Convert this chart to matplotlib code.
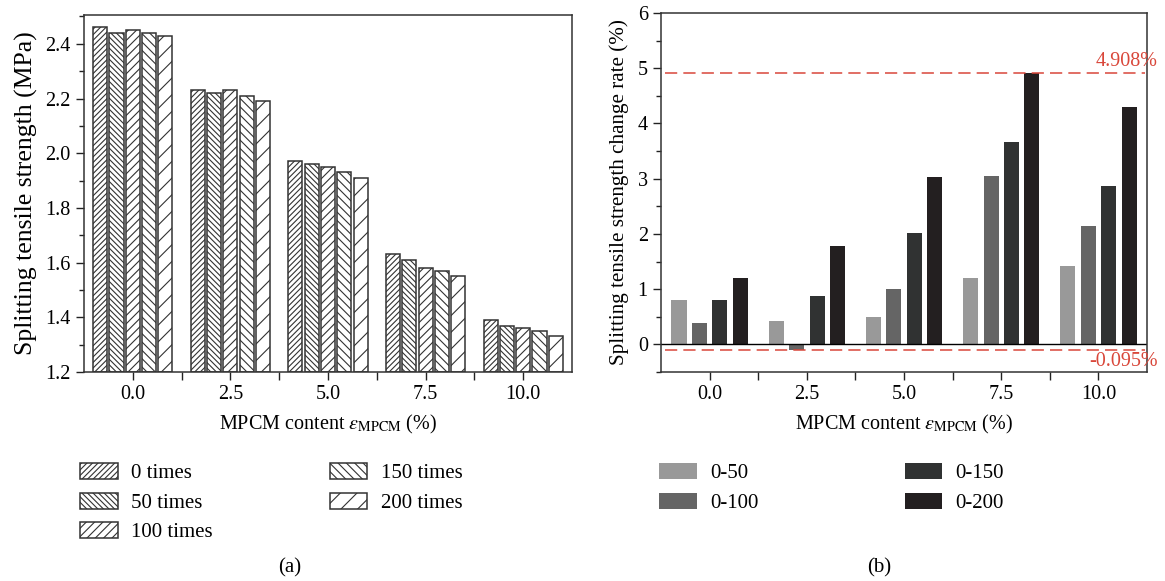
import numpy as np
import matplotlib
matplotlib.use("Agg")
import matplotlib.pyplot as plt
from matplotlib.ticker import MultipleLocator, FormatStrFormatter

plt.rcParams['font.family'] = ['Liberation Serif', 'DejaVu Serif']
plt.rcParams['mathtext.fontset'] = 'stix'
plt.rcParams['hatch.linewidth'] = 0.8
plt.rcParams['hatch.color'] = '#333333'

# --- data ---
contents = ["0.0", "2.5", "5.0", "7.5", "10.0"]

# (a) splitting tensile strength, MPa
cycles = ["0 times", "50 times", "100 times", "150 times", "200 times"]
strength = [
    [2.46, 2.23, 1.97, 1.63, 1.39],   # 0 times
    [2.44, 2.22, 1.96, 1.61, 1.37],   # 50 times
    [2.45, 2.23, 1.95, 1.58, 1.36],   # 100 times
    [2.44, 2.21, 1.93, 1.57, 1.35],   # 150 times
    [2.43, 2.19, 1.91, 1.55, 1.33],   # 200 times
]
hatches = ["//////", "\\\\\\\\\\\\", "////", "\\\\\\\\", "//"]

# (b) change rate, %
ranges = ["0-50", "0-100", "0-150", "0-200"]
rate = [
    [0.80, 0.43, 0.49, 1.21, 1.42],    # 0-50
    [0.38, -0.095, 1.00, 3.05, 2.14],  # 0-100
    [0.80, 0.88, 2.01, 3.66, 2.86],    # 0-150
    [1.20, 1.78, 3.03, 4.908, 4.30],   # 0-200
]
gray = ["#999999", "#656565", "#303232", "#231f20"]
rate_max = 4.908
rate_min = -0.095

fs = 14.5
red = "#d9473a"
xlab = r"MPCM content $\varepsilon_{\mathrm{MPCM}}$ (%)"

fig = plt.figure(figsize=(11.65, 5.81), dpi=100)

# =========================
# (a)
# =========================
ax1 = fig.add_axes([0.0721, 0.3597, 0.4189, 0.6143])
x = np.arange(len(contents))
step = 0.167
for i, vals in enumerate(strength):
    ax1.bar(x + (i - 2) * step, np.array(vals) - 1.2, bottom=1.2, width=0.145,
            color="white", edgecolor="#333333", linewidth=1.1,
            hatch=hatches[i], label=cycles[i])
ax1.set_xlim(-0.5, 4.5)
ax1.set_ylim(1.2, 2.505)
ax1.set_xticks(x)
ax1.set_xticklabels(contents)
ax1.set_xticks(x[:-1] + 0.5, minor=True)
ax1.yaxis.set_major_locator(MultipleLocator(0.2))
ax1.yaxis.set_minor_locator(MultipleLocator(0.1))
ax1.yaxis.set_major_formatter(FormatStrFormatter("%.1f"))
ax1.set_ylabel("Splitting tensile strength (MPa)", fontsize=18.5, labelpad=5)
ax1.set_xlabel(xlab, fontsize=fs, labelpad=6)

# =========================
# (b)
# =========================
ax2 = fig.add_axes([0.5674, 0.3597, 0.4172, 0.6179])
step2 = 0.21
for i, vals in enumerate(rate):
    ax2.bar(x + (i - 1.5) * step2, vals, width=0.155, color=gray[i],
            edgecolor="none", label=ranges[i])
ax2.axhline(0, color="black", linewidth=1.0)
ax2.axhline(rate_max, color=red, linewidth=1.1, dashes=(8, 4), xmin=0.008, xmax=0.995)
ax2.axhline(rate_min, color=red, linewidth=1.1, dashes=(8, 4), xmin=0.008, xmax=0.995)
ax2.text(1.022, rate_max + 0.04, "4.908%", transform=ax2.get_yaxis_transform(),
         ha="right", va="bottom", color=red, fontsize=fs)
ax2.text(1.022, rate_min - 0.05, "-0.095%", transform=ax2.get_yaxis_transform(),
         ha="right", va="top", color=red, fontsize=fs)
ax2.set_xlim(-0.5, 4.5)
ax2.set_ylim(-0.5, 6)
ax2.set_xticks(x)
ax2.set_xticklabels(contents)
ax2.set_xticks(x[:-1] + 0.5, minor=True)
ax2.yaxis.set_major_locator(MultipleLocator(1))
ax2.yaxis.set_minor_locator(MultipleLocator(0.5))
ax2.set_ylabel("Splitting tensile strength change rate (%)", fontsize=15.2, labelpad=6)
ax2.set_xlabel(xlab, fontsize=fs, labelpad=6)

for ax in (ax1, ax2):
    ax.tick_params(which="both", direction="out", top=False, right=False,
                   labelsize=fs, color="#222222")
    ax.tick_params(which="major", length=6, width=1)
    ax.tick_params(which="minor", length=3.5, width=1)
    ax.xaxis.set_tick_params(which="minor", length=6)
    for s in ax.spines.values():
        s.set_linewidth(1.1)
        s.set_color("#333333")

# legends
fig.legend(*ax1.get_legend_handles_labels(), loc="upper left",
           bbox_to_anchor=(0.069, 0.203), ncol=2, frameon=False, fontsize=15,
           handlelength=1.8, handleheight=0.8, handletextpad=0.65,
           labelspacing=0.45, columnspacing=5.6, borderaxespad=0, borderpad=0)
fig.legend(*ax2.get_legend_handles_labels(), loc="upper left",
           bbox_to_anchor=(0.566, 0.203), ncol=2, frameon=False, fontsize=15,
           handlelength=1.8, handleheight=0.8, handletextpad=0.65,
           labelspacing=0.45, columnspacing=7.0, borderaxespad=0, borderpad=0)

fig.text(0.249, 0.022, "(a)", ha="center", va="center", fontsize=15)
fig.text(0.755, 0.022, "(b)", ha="center", va="center", fontsize=15)

fig.savefig("out.png", dpi=100)
